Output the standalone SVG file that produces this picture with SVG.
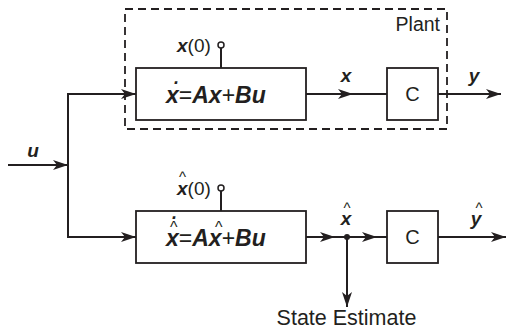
<svg xmlns="http://www.w3.org/2000/svg" width="508" height="330" viewBox="0 0 508 330">
<style>
.ln{fill:none;stroke:#231f20;stroke-width:2}
.bx{fill:#fff;stroke:#231f20;stroke-width:1.8}
.var{font-family:"Liberation Sans",Arial,sans-serif;font-weight:bold;font-style:italic;fill:#231f20}
.reg{font-family:"Liberation Sans",Arial,sans-serif;font-weight:normal;font-style:normal;fill:#231f20}
.pin{fill:#fff;stroke:#231f20;stroke-width:1.5}
</style>
<defs>
<marker id="ah" markerUnits="userSpaceOnUse" markerWidth="16" markerHeight="12" refX="15" refY="6" orient="auto" viewBox="0 0 16 12">
<path d="M0,1 L15,6 L0,11 L4,6 Z" fill="#231f20"/>
</marker>
</defs>
<rect x="125" y="9" width="322" height="120" fill="none" stroke="#231f20" stroke-width="1.8" stroke-dasharray="8,5"/>
<text class="reg" x="440" y="31" font-size="19.5" text-anchor="end">Plant</text>
<g id="connectors">
<line class="ln" x1="8" y1="165" x2="68" y2="165" marker-end="url(#ah)"/>
<polyline class="ln" points="136,94 68,94 68,237 136,237"/>
<line class="ln" x1="68" y1="94" x2="136" y2="94" marker-end="url(#ah)"/>
<line class="ln" x1="68" y1="237" x2="136" y2="237" marker-end="url(#ah)"/>
<line class="ln" x1="306" y1="94" x2="353" y2="94" marker-end="url(#ah)"/>
<line class="ln" x1="350" y1="94" x2="387" y2="94"/>
<line class="ln" x1="438" y1="94" x2="501" y2="94" marker-end="url(#ah)"/>
<line class="ln" x1="306" y1="237" x2="335" y2="237" marker-end="url(#ah)"/>
<line class="ln" x1="332" y1="237" x2="377" y2="237" marker-end="url(#ah)"/>
<line class="ln" x1="374" y1="237" x2="387" y2="237"/>
<line class="ln" x1="438" y1="237" x2="506" y2="237" marker-end="url(#ah)"/>
<line class="ln" x1="347" y1="237" x2="347" y2="307" marker-end="url(#ah)"/>
<circle cx="347" cy="237" r="3" fill="#231f20"/>
<line class="ln" x1="221" y1="48" x2="221" y2="68"/>
<circle class="pin" cx="221" cy="45" r="3"/>
<line class="ln" x1="221" y1="191" x2="221" y2="211"/>
<circle class="pin" cx="221" cy="188" r="3"/>
</g>
<g id="plant-dynamics">
<rect class="bx" x="136" y="68" width="170" height="52"/>
<text class="var" x="166" y="103" font-size="23">x<tspan class="reg">=</tspan>Ax<tspan class="reg">+</tspan>Bu</text>
<text class="var" x="174" y="84" font-size="18">.</text>
</g>
<g id="plant-x0">
<text class="var" x="177" y="52" font-size="19">x<tspan class="reg">(0)</tspan></text>
</g>
<g id="plant-C">
<rect class="bx" x="387" y="68" width="51" height="52"/>
<text class="reg" x="412.5" y="101" font-size="20" text-anchor="middle">C</text>
</g>
<g id="observer">
<rect class="bx" x="136" y="211" width="170" height="52"/>
<text class="var" x="166" y="246" font-size="23">x<tspan class="reg">=</tspan>Ax<tspan class="reg">+</tspan>Bu</text>
<text class="reg" x="170" y="233" font-size="16">^</text>
<text class="var" x="172" y="219" font-size="18">.</text>
<text class="reg" x="215" y="233" font-size="16">^</text>
</g>
<g id="observer-x0">
<text class="var" x="177" y="195" font-size="19">x<tspan class="reg">(0)</tspan></text>
<text class="reg" x="179" y="182" font-size="15">^</text>
</g>
<g id="observer-C">
<rect class="bx" x="387" y="211" width="51" height="52"/>
<text class="reg" x="412.5" y="244" font-size="20" text-anchor="middle">C</text>
</g>
<g id="labels">
<text class="var" x="33" y="157" font-size="19" text-anchor="middle">u</text>
<text class="var" x="346" y="82" font-size="19" text-anchor="middle">x</text>
<text class="var" x="474" y="82" font-size="19" text-anchor="middle">y</text>
<text class="var" x="346" y="225" font-size="19" text-anchor="middle">x</text>
<text class="reg" x="347" y="213" font-size="15" text-anchor="middle">^</text>
<text class="var" x="476" y="225" font-size="19" text-anchor="middle">y</text>
<text class="reg" x="479" y="213" font-size="15" text-anchor="middle">^</text>
<text class="reg" x="346.5" y="325" font-size="21.5" text-anchor="middle">State Estimate</text>
</g>
</svg>
